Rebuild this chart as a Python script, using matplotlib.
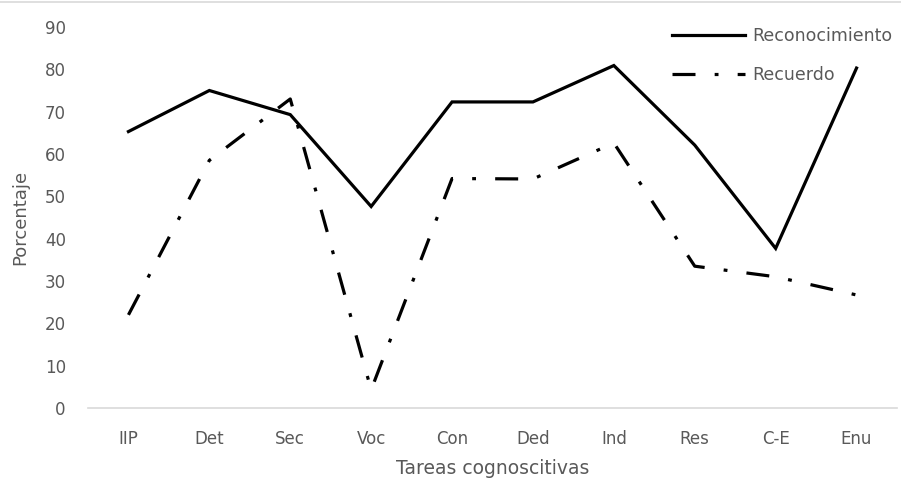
import matplotlib
matplotlib.use("Agg")
import matplotlib.pyplot as plt
from matplotlib.lines import Line2D

categories = ["IIP", "Det", "Sec", "Voc", "Con", "Ded", "Ind", "Res", "C-E", "Enu"]
reconocimiento = [65.3, 75.0, 69.3, 47.6, 72.3, 72.3, 80.9, 62.1, 37.7, 80.3]
recuerdo = [22.0, 58.5, 73.0, 4.3, 54.2, 54.1, 62.6, 33.5, 31.0, 26.7]
yticks = [0, 10, 20, 30, 40, 50, 60, 70, 80, 90]

plt.rcParams['font.family'] = ['DejaVu Sans']
grey = '#595959'

fig = plt.figure(figsize=(9.01, 4.79), dpi=100)
ax = fig.add_axes([88/901, 1-408/479, (897-88)/901, (408-27)/479])

x = list(range(len(categories)))
ax.plot(x, reconocimiento, color='black', lw=2.3, solid_joinstyle='miter',
        label='Reconocimiento')
ax.plot(x, recuerdo, color='black', lw=2.3,
        linestyle=(0, (7.2, 6.0, 1.2, 6.0)), dash_capstyle='butt',
        label='Recuerdo')

ax.set_xlim(-0.5, len(categories) - 0.5)
ax.set_ylim(0, 90)
ax.set_yticks(yticks)
ax.set_xticks(x)
ax.set_xticklabels(categories)
for s in ['top', 'right', 'left']:
    ax.spines[s].set_visible(False)
ax.spines['bottom'].set_color('#d9d9d9')
ax.spines['bottom'].set_linewidth(1.2)
ax.tick_params(axis='both', length=0, labelsize=12, colors=grey)
ax.tick_params(axis='y', pad=16)
ax.tick_params(axis='x', pad=16)

ax.set_xlabel('Tareas cognoscitivas', fontsize=13.5, color=grey, labelpad=8)
ax.set_ylabel('Porcentaje', fontsize=13, color=grey, labelpad=11)

leg = ax.legend(loc='upper right', bbox_to_anchor=(1.014, 1.04), frameon=False,
                fontsize=12.5, handlelength=4.2, handletextpad=0.45,
                labelspacing=1.2)
for t in leg.get_texts():
    t.set_color(grey)

fig.add_artist(Line2D([0, 1], [0.996, 0.996], transform=fig.transFigure,
                      color='#d9d9d9', lw=1.2))

fig.savefig('out.png', dpi=100)
